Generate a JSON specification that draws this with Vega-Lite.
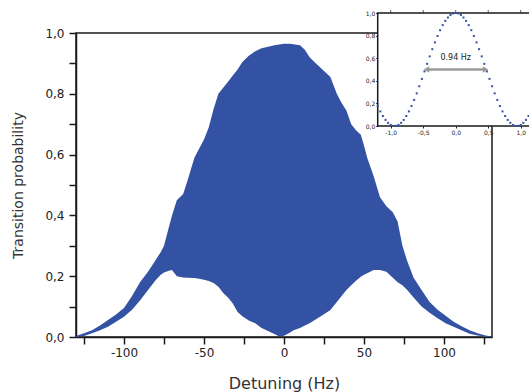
{
  "$schema": "https://vega.github.io/schema/vega-lite/v6.json",
  "autosize": "none",
  "width": 416,
  "height": 304,
  "padding": {"left": 76, "top": 33, "right": 37, "bottom": 55},
  "background": "white",
  "config": {
    "view": {"stroke": "#1a1a1a", "strokeWidth": 1.5},
    "font": "DejaVu Sans"
  },
  "datasets": {
    "envelope": [
      {"detuning": -130, "upper": 0.003, "lower": 0.0},
      {"detuning": -125, "upper": 0.012, "lower": 0.003},
      {"detuning": -120, "upper": 0.022, "lower": 0.012},
      {"detuning": -115, "upper": 0.038, "lower": 0.022},
      {"detuning": -110, "upper": 0.056, "lower": 0.034},
      {"detuning": -105, "upper": 0.074, "lower": 0.05},
      {"detuning": -100, "upper": 0.095, "lower": 0.067},
      {"detuning": -95, "upper": 0.135, "lower": 0.09},
      {"detuning": -90, "upper": 0.18, "lower": 0.12},
      {"detuning": -85, "upper": 0.215, "lower": 0.155},
      {"detuning": -80, "upper": 0.255, "lower": 0.188},
      {"detuning": -77, "upper": 0.28, "lower": 0.205},
      {"detuning": -75, "upper": 0.3, "lower": 0.212},
      {"detuning": -72, "upper": 0.36, "lower": 0.218},
      {"detuning": -70, "upper": 0.4, "lower": 0.22},
      {"detuning": -67, "upper": 0.45, "lower": 0.2},
      {"detuning": -63, "upper": 0.47, "lower": 0.196},
      {"detuning": -60, "upper": 0.52, "lower": 0.195},
      {"detuning": -56, "upper": 0.59, "lower": 0.194},
      {"detuning": -53, "upper": 0.62, "lower": 0.192},
      {"detuning": -50, "upper": 0.65, "lower": 0.188},
      {"detuning": -47, "upper": 0.69, "lower": 0.184},
      {"detuning": -44, "upper": 0.75, "lower": 0.178},
      {"detuning": -41, "upper": 0.8, "lower": 0.165},
      {"detuning": -38, "upper": 0.82, "lower": 0.145},
      {"detuning": -35, "upper": 0.84, "lower": 0.13},
      {"detuning": -32, "upper": 0.86, "lower": 0.11},
      {"detuning": -29, "upper": 0.88, "lower": 0.082},
      {"detuning": -26, "upper": 0.905, "lower": 0.068},
      {"detuning": -22, "upper": 0.925, "lower": 0.054},
      {"detuning": -18, "upper": 0.94, "lower": 0.045},
      {"detuning": -14, "upper": 0.95, "lower": 0.03},
      {"detuning": -10, "upper": 0.955, "lower": 0.02},
      {"detuning": -6, "upper": 0.96, "lower": 0.01},
      {"detuning": -3, "upper": 0.962, "lower": 0.002},
      {"detuning": 0, "upper": 0.965, "lower": 0.004},
      {"detuning": 3, "upper": 0.965, "lower": 0.012},
      {"detuning": 6, "upper": 0.963, "lower": 0.022},
      {"detuning": 10, "upper": 0.96, "lower": 0.03},
      {"detuning": 13, "upper": 0.945, "lower": 0.038},
      {"detuning": 16, "upper": 0.92, "lower": 0.045},
      {"detuning": 19, "upper": 0.905, "lower": 0.055},
      {"detuning": 22, "upper": 0.89, "lower": 0.065},
      {"detuning": 25, "upper": 0.875, "lower": 0.075},
      {"detuning": 29, "upper": 0.855, "lower": 0.089},
      {"detuning": 33, "upper": 0.8, "lower": 0.115},
      {"detuning": 36, "upper": 0.77, "lower": 0.135},
      {"detuning": 39, "upper": 0.745, "lower": 0.155},
      {"detuning": 42, "upper": 0.7, "lower": 0.17},
      {"detuning": 45, "upper": 0.68, "lower": 0.185},
      {"detuning": 48, "upper": 0.665, "lower": 0.198},
      {"detuning": 50, "upper": 0.63, "lower": 0.205},
      {"detuning": 52, "upper": 0.59, "lower": 0.21},
      {"detuning": 56, "upper": 0.53, "lower": 0.22},
      {"detuning": 60, "upper": 0.46, "lower": 0.22},
      {"detuning": 64, "upper": 0.43, "lower": 0.215},
      {"detuning": 68, "upper": 0.41, "lower": 0.195},
      {"detuning": 71, "upper": 0.38, "lower": 0.18},
      {"detuning": 74, "upper": 0.3, "lower": 0.17},
      {"detuning": 77, "upper": 0.25, "lower": 0.155},
      {"detuning": 81, "upper": 0.195, "lower": 0.13},
      {"detuning": 86, "upper": 0.155, "lower": 0.1},
      {"detuning": 91, "upper": 0.115, "lower": 0.08},
      {"detuning": 96, "upper": 0.09, "lower": 0.062},
      {"detuning": 101, "upper": 0.07, "lower": 0.045},
      {"detuning": 106, "upper": 0.05, "lower": 0.034},
      {"detuning": 111, "upper": 0.035, "lower": 0.022},
      {"detuning": 116, "upper": 0.022, "lower": 0.011},
      {"detuning": 121, "upper": 0.012, "lower": 0.005},
      {"detuning": 126, "upper": 0.005, "lower": 0.001},
      {"detuning": 130, "upper": 0.002, "lower": 0.0}
    ],
    "insetFrame": [{"x1": -1.2, "x2": 1.3, "y1": 0, "y2": 1}],
    "insetTicks": [{"x": -1.0}, {"x": -0.5}, {"x": 0.0}, {"x": 0.5}, {"x": 1.0}],
    "fringe": [
      {"f": -1.2, "p": 0.177}, {"f": -1.16, "p": 0.129}, {"f": -1.12, "p": 0.088},
      {"f": -1.08, "p": 0.054}, {"f": -1.04, "p": 0.028}, {"f": -1.0, "p": 0.01},
      {"f": -0.96, "p": 0.001}, {"f": -0.92, "p": 0.001}, {"f": -0.88, "p": 0.01},
      {"f": -0.84, "p": 0.028}, {"f": -0.8, "p": 0.054}, {"f": -0.76, "p": 0.088},
      {"f": -0.72, "p": 0.129}, {"f": -0.68, "p": 0.177}, {"f": -0.64, "p": 0.231},
      {"f": -0.6, "p": 0.289}, {"f": -0.56, "p": 0.352}, {"f": -0.52, "p": 0.417},
      {"f": -0.48, "p": 0.483}, {"f": -0.44, "p": 0.55}, {"f": -0.4, "p": 0.616},
      {"f": -0.36, "p": 0.68}, {"f": -0.32, "p": 0.74}, {"f": -0.28, "p": 0.796},
      {"f": -0.24, "p": 0.848}, {"f": -0.2, "p": 0.893}, {"f": -0.16, "p": 0.93},
      {"f": -0.12, "p": 0.96}, {"f": -0.08, "p": 0.982}, {"f": -0.04, "p": 0.996},
      {"f": 0.0, "p": 1.0},
      {"f": 0.04, "p": 0.996}, {"f": 0.08, "p": 0.982}, {"f": 0.12, "p": 0.96},
      {"f": 0.16, "p": 0.93}, {"f": 0.2, "p": 0.893}, {"f": 0.24, "p": 0.848},
      {"f": 0.28, "p": 0.796}, {"f": 0.32, "p": 0.74}, {"f": 0.36, "p": 0.68},
      {"f": 0.4, "p": 0.616}, {"f": 0.44, "p": 0.55}, {"f": 0.48, "p": 0.483},
      {"f": 0.52, "p": 0.417}, {"f": 0.56, "p": 0.352}, {"f": 0.6, "p": 0.289},
      {"f": 0.64, "p": 0.231}, {"f": 0.68, "p": 0.177}, {"f": 0.72, "p": 0.129},
      {"f": 0.76, "p": 0.088}, {"f": 0.8, "p": 0.054}, {"f": 0.84, "p": 0.028},
      {"f": 0.88, "p": 0.01}, {"f": 0.92, "p": 0.001}, {"f": 0.96, "p": 0.001},
      {"f": 1.0, "p": 0.01}, {"f": 1.04, "p": 0.028}, {"f": 1.08, "p": 0.054},
      {"f": 1.12, "p": 0.088}, {"f": 1.16, "p": 0.129}, {"f": 1.2, "p": 0.177}
    ],
    "fwhm": [{"f1": -0.45, "f2": 0.46, "p": 0.5, "label": "0.94 Hz", "mid": 0.0, "labelY": 0.6}],
    "heads": [{"f": -0.45, "p": 0.5, "dir": "left"}, {"f": 0.46, "p": 0.5, "dir": "right"}]
  },
  "layer": [
    {
      "data": {"name": "envelope"},
      "mark": {"type": "area", "color": "#3352a3", "interpolate": "linear"},
      "encoding": {
        "x": {
          "field": "detuning", "type": "quantitative",
          "scale": {"domain": [-130, 130], "nice": false, "zero": false},
          "axis": {
            "title": "Detuning (Hz)",
            "values": [-125, -100, -75, -50, -25, 0, 25, 50, 75, 100, 125],
            "labelExpr": "datum.value % 50 === 0 ? '' + datum.value : ''",
            "grid": false, "tickSize": 7, "tickWidth": 1.5, "tickColor": "#1a1a1a",
            "domainColor": "#1a1a1a", "domainWidth": 1.5,
            "labelFontSize": 12, "labelColor": "#222", "labelPadding": 3, "labelFlush": false,
            "titleFontSize": 16, "titleFontWeight": "normal", "titleColor": "#333",
            "titleY": 46, "titleBaseline": "middle"
          }
        },
        "y": {
          "field": "upper", "type": "quantitative",
          "scale": {"domain": [0, 1], "nice": false},
          "axis": {
            "title": "Transition probability",
            "values": [0, 0.1, 0.2, 0.3, 0.4, 0.5, 0.6, 0.7, 0.8, 0.9, 1.0],
            "labelExpr": "round(datum.value * 10) % 2 === 0 ? replace(format(datum.value, '.1f'), '.', ',') : ''",
            "grid": false, "tickSize": 7, "tickWidth": 1.5, "tickColor": "#1a1a1a",
            "domainColor": "#1a1a1a", "domainWidth": 1.5,
            "labelFontSize": 12, "labelColor": "#222", "labelPadding": 5, "labelFlush": false,
            "titleFontSize": 14, "titleFontWeight": "normal", "titleColor": "#333",
            "titleX": -58, "titleY": 152, "titleAngle": 270, "titleAlign": "center", "titleBaseline": "middle"
          }
        },
        "y2": {"field": "lower"}
      }
    },
    {
      "layer": [
        {
          "data": {"name": "insetFrame"},
          "mark": {"type": "rect", "fill": "white", "stroke": "#1a1a1a", "strokeWidth": 1.5},
          "encoding": {
            "x": {
              "field": "x1", "type": "quantitative",
              "scale": {"domain": [-1.2, 1.3], "range": [301.7, 464.2], "nice": false, "zero": false},
              "axis": {
                "orient": "bottom", "offset": -211, "zindex": 2,
                "values": [-1.0, -0.5, 0.0, 0.5, 1.0],
                "labelExpr": "(datum.value < 0 ? '-' : '') + replace(format(abs(datum.value), '.1f'), '.', ',')",
                "title": null, "grid": false, "domain": false,
                "tickSize": 2, "tickColor": "#1a1a1a", "tickWidth": 1,
                "labelFontSize": 6, "labelColor": "#222", "labelPadding": 1, "labelFlush": false
              }
            },
            "x2": {"field": "x2"},
            "y": {
              "field": "y1", "type": "quantitative",
              "scale": {"domain": [0, 1], "range": [93, -20], "nice": false, "zero": false},
              "axis": {
                "orient": "left", "offset": -301.7, "zindex": 2,
                "values": [0, 0.2, 0.4, 0.6, 0.8, 1.0],
                "labelExpr": "replace(format(datum.value, '.1f'), '.', ',')",
                "title": null, "grid": false, "domain": false,
                "tickSize": 2, "tickColor": "#1a1a1a", "tickWidth": 1,
                "labelFontSize": 6, "labelColor": "#222", "labelPadding": 1, "labelFlush": false
              }
            },
            "y2": {"field": "y2"}
          }
        },
        {
          "data": {"name": "insetTicks"},
          "mark": {"type": "tick", "orient": "vertical", "color": "#1a1a1a", "size": 3, "thickness": 1, "yOffset": -1.5},
          "encoding": {
            "x": {"field": "x", "type": "quantitative"},
            "y": {"datum": 1}
          }
        },
        {
          "data": {"name": "fringe"},
          "mark": {"type": "square", "color": "#3352a3", "size": 4, "opacity": 1},
          "encoding": {
            "x": {"field": "f", "type": "quantitative"},
            "y": {"field": "p", "type": "quantitative"}
          }
        },
        {
          "data": {"name": "fwhm"},
          "mark": {"type": "rule", "color": "#9a9a9a", "strokeWidth": 2.5},
          "encoding": {
            "x": {"field": "f1", "type": "quantitative"},
            "x2": {"field": "f2"},
            "y": {"field": "p", "type": "quantitative"}
          }
        },
        {
          "data": {"name": "heads"},
          "mark": {"type": "point", "filled": true, "color": "#9a9a9a", "size": 40, "opacity": 1},
          "encoding": {
            "x": {"field": "f", "type": "quantitative"},
            "y": {"field": "p", "type": "quantitative"},
            "shape": {"field": "dir", "type": "nominal", "scale": {"domain": ["left", "right"], "range": ["triangle-left", "triangle-right"]}, "legend": null}
          }
        },
        {
          "data": {"name": "fwhm"},
          "mark": {"type": "text", "fontSize": 8, "color": "#222", "baseline": "middle", "align": "center"},
          "encoding": {
            "x": {"field": "mid", "type": "quantitative"},
            "y": {"field": "labelY", "type": "quantitative"},
            "text": {"field": "label"}
          }
        }
      ]
    }
  ],
  "resolve": {
    "scale": {"x": "independent", "y": "independent"},
    "axis": {"x": "independent", "y": "independent"}
  }
}
